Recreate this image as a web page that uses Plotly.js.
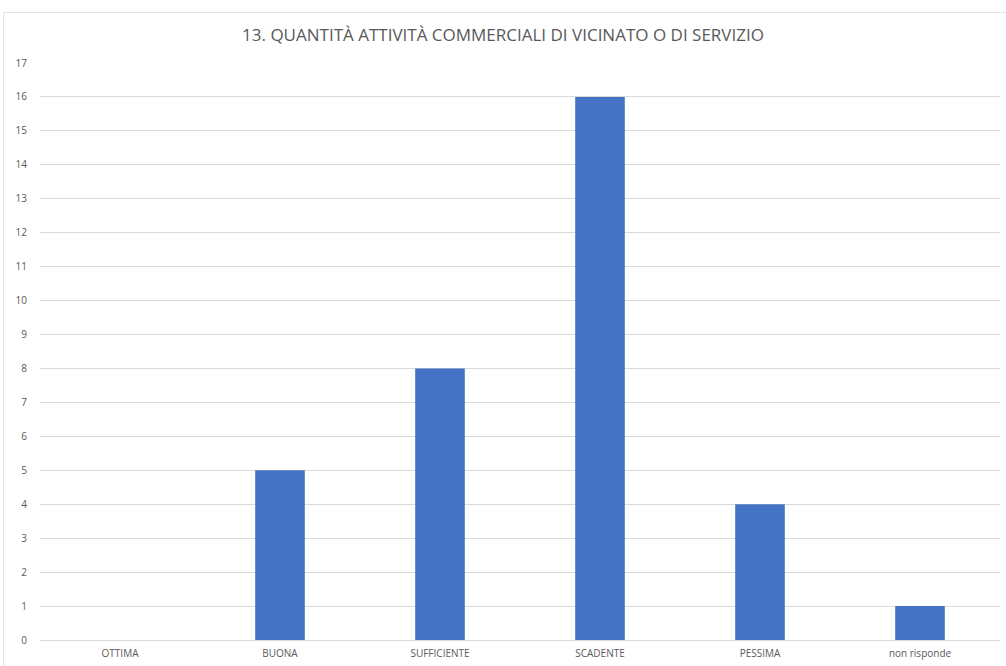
<!DOCTYPE html>
<html>
<head>
<meta charset="utf-8">
<script src="https://cdn.plot.ly/plotly-3.0.1.min.js"></script>
<style>
  html, body { margin: 0; padding: 0; background: #fff; }
  #frame { position: absolute; left: 3px; top: 12px; width: 1010px; height: 660px; border: 1px solid #e3e3e3; box-sizing: border-box; }
  #chart { position: absolute; left: 0; top: 0; width: 1006px; height: 666px; }
</style>
</head>
<body>
<div id="frame"></div>
<div id="chart"></div>
<script>
const categories = ["OTTIMA", "BUONA", "SUFFICIENTE", "SCADENTE", "PESSIMA", "non risponde"];
const values = [0, 5, 8, 16, 4, 1];
const yTicks = [0,1,2,3,4,5,6,7,8,9,10,11,12,13,14,15,16,17];
const titleText = "13. QUANTITÀ ATTIVITÀ COMMERCIALI DI VICINATO O DI SERVIZIO";

const font = "Open Sans, Noto Sans, sans-serif";
Plotly.newPlot("chart", [{
  type: "bar",
  x: categories,
  y: values,
  marker: { color: "#4472c4" },
  hoverinfo: "x+y"
}], {
  width: 1006, height: 666,
  margin: { l: 40, r: 6, t: 63, b: 26 },
  paper_bgcolor: "rgba(0,0,0,0)",
  plot_bgcolor: "rgba(0,0,0,0)",
  bargap: 0.69,
  title: { text: titleText, font: { family: font, size: 17, color: "#595959" }, x: 0.5, xanchor: "center", y: 0.947, yanchor: "middle" },
  xaxis: {
    tickfont: { family: font, size: 10, color: "#595959" },
    showgrid: false, zeroline: false, showline: false,
    ticks: "outside", ticklen: 4, tickcolor: "rgba(0,0,0,0)"
  },
  yaxis: {
    range: [0, 17],
    tickvals: yTicks,
    tickfont: { family: font, size: 10, color: "#595959" },
    gridcolor: "#d9d9d9", gridwidth: 1,
    zeroline: true, zerolinecolor: "#d9d9d9", zerolinewidth: 1,
    showline: false,
    ticks: "outside", ticklen: 10, tickcolor: "rgba(0,0,0,0)"
  },
  showlegend: false
}, { displayModeBar: false, staticPlot: false });
</script>
</body>
</html>
